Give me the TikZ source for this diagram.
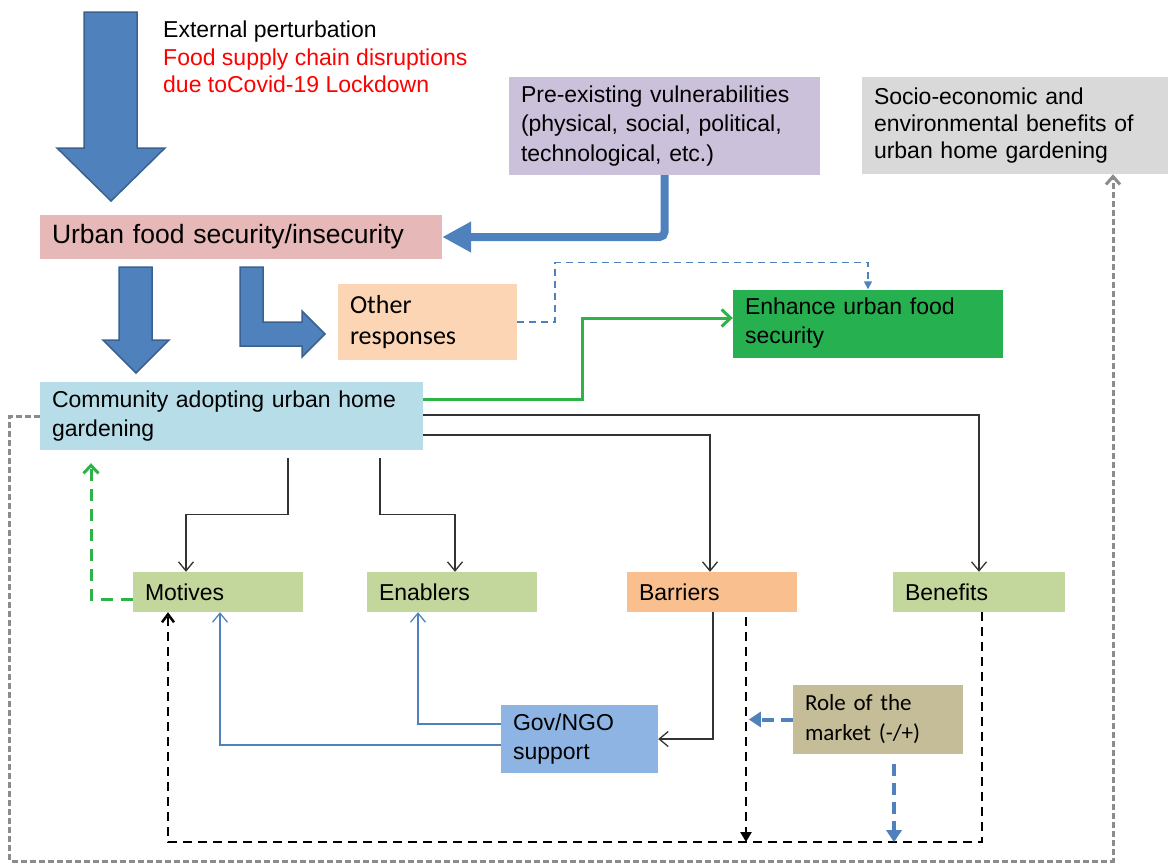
\documentclass[tikz,border=0pt]{standalone}
\usepackage{fontspec}
\setmainfont{Liberation Sans}
\newfontfamily\calib{Carlito}
\usetikzlibrary{arrows.meta,calc}
\definecolor{cUrban}{HTML}{E6B9B8}
\definecolor{cPre}{HTML}{CCC1DA}
\definecolor{cSocio}{HTML}{D9D9D9}
\definecolor{cOther}{HTML}{FCD5B5}
\definecolor{cEnh}{HTML}{27B04F}
\definecolor{cComm}{HTML}{B7DDE8}
\definecolor{cOlive}{HTML}{C3D69B}
\definecolor{cBarr}{HTML}{F9BF8F}
\definecolor{cGov}{HTML}{8EB4E3}
\definecolor{cRole}{HTML}{C4BD97}
\definecolor{cBlue}{HTML}{4F81BD}
\definecolor{cBlueD}{HTML}{3A6190}
\definecolor{cGreen}{HTML}{2DB34A}
\definecolor{cGrey}{HTML}{8C8C8C}
\definecolor{cDark}{HTML}{333333}
\begin{document}
\begin{tikzpicture}[x=1pt,y=-1pt,
  box/.style={rectangle, inner xsep=12pt, inner ysep=0pt, align=left, anchor=center,
    font=\fontsize{23}{29}\selectfont},
  blockarrow/.style={fill=cBlue, draw=cBlueD, line width=1.5pt, line join=miter},
  thinblack/.style={draw=cDark, line width=1.3pt, -{Straight Barb[length=9pt,width=15pt]}},
  thinblue/.style={draw=cBlue, line width=1.3pt, -{Straight Barb[length=9pt,width=15pt]}},
  greenline/.style={draw=cGreen, line width=3pt, -{Straight Barb[length=9pt,width=17pt]}},
  greendash/.style={draw=cGreen, line width=3pt, dash pattern=on 12pt off 8pt, -{Straight Barb[length=8pt,width=15pt]}},
  bluedashthin/.style={draw=cBlue, line width=1.6pt, dash pattern=on 7pt off 5pt, -{Triangle[length=8pt,width=8pt]}},
  bluedashthick/.style={draw=cBlue, line width=4pt, dash pattern=on 12pt off 7pt, -{Triangle[length=12pt,width=15pt]}},
  blackdash/.style={draw=black, line width=2.5pt, dash pattern=on 9pt off 6pt},
  greydash/.style={draw=cGrey, line width=3pt, dash pattern=on 6pt off 3pt, -{Straight Barb[length=8pt,width=14pt]}},
  bigconn/.style={draw=cBlue, line width=8pt, rounded corners=5pt, -{Triangle[length=29pt,width=29pt]}},
  lower/.style={yshift=-2pt}
]
\useasboundingbox (0,0) rectangle (1168,863);

% block arrows
\path[blockarrow] (84,12) -- (137,12) -- (137,148) -- (165,148) -- (111,201) -- (57,148) -- (84,148) -- cycle;
\path[blockarrow] (119,267) -- (152,267) -- (152,340) -- (169,340) -- (136,373) -- (103,340) -- (119,340) -- cycle;
\path[blockarrow] (240,267) -- (263,267) -- (263,322) -- (302,322) -- (302,311) -- (325,334) -- (302,357) -- (302,346) -- (240,346) -- cycle;

% text
\node[anchor=north west, inner sep=0pt, align=left, font=\fontsize{23}{27.5}\selectfont] (ext) at (163,21)
  {External perturbation\\\textcolor{red}{Food supply chain disruptions}\\\textcolor{red}{due toCovid-19 Lockdown}};

% boxes
\node[box, fill=cUrban, text width=378pt, minimum height=44pt, font=\fontsize{26.5}{30}\selectfont] (urban) at (241,237) {Urban food security/insecurity};
\node[box, fill=cPre, text width=287pt, minimum height=98pt, font=\fontsize{23}{29.5}\selectfont] (pre) at (664.5,126) {Pre-existing vulnerabilities\\(physical, social, political,\\technological, etc.)};
\node[box, fill=cSocio, text width=282pt, minimum height=97pt, font=\fontsize{23}{27}\selectfont] (socio) at (1015,125.5) {Socio-economic and\\environmental benefits of\\urban home gardening};
\node[box, fill=cOther, text width=155pt, minimum height=76pt, font=\calib\fontsize{26}{31}\selectfont] (other) at (427.5,322) {Other\\responses};
\node[box, fill=cEnh, text width=246pt, minimum height=68pt] (enhance) at (868,323.5) {Enhance urban food\\security};
\node[box, fill=cComm, text width=359pt, minimum height=68pt] (community) at (231.5,416) {Community adopting urban home\\gardening};
\node[box, fill=cOlive, text width=146pt, minimum height=40pt] (motives) at (218,592) {Motives};
\node[box, fill=cOlive, text width=146pt, minimum height=40pt] (enablers) at (452,592) {Enablers};
\node[box, fill=cBarr, text width=146pt, minimum height=40pt] (barriers) at (712,592) {Barriers};
\node[box, fill=cOlive, text width=148pt, minimum height=40pt] (benefits) at (979,592) {Benefits};
\node[box, fill=cGov, text width=133pt, minimum height=68pt] (gov) at (579.5,739) {Gov/NGO\\support};
\node[box, fill=cRole, text width=146pt, minimum height=69pt, font=\calib\fontsize{23}{30}\selectfont] (role) at (878,719.5) {Role of the\\market (-/+)};

\coordinate (bl) at (168,842);
\coordinate (bx) at (746,842);

% connectors
\draw[bigconn] (pre.south) |- (urban.east);
\draw[bluedashthin] (other.east) -- ++(38,0) |- ([yshift=27pt]enhance.north) -- (enhance.north);
\draw[greenline] ([yshift=17pt]community.east) -- ++(159,0) |- ([yshift=5.5pt]enhance.west);
\draw[thinblack] ([yshift=1pt]community.east) -| (benefits.north);
\draw[thinblack] ([yshift=-19pt]community.east) -| ([xshift=-2pt]barriers.north);
\draw[thinblack] ([xshift=148.5pt,yshift=-8pt]community.south) -- ++(0,56) -| ([xshift=3pt]enablers.north);
\draw[thinblack] ([xshift=56.5pt,yshift=-8pt]community.south) -- ++(0,56) -| ([xshift=-32pt]motives.north);
\draw[greendash] ([yshift=-7pt]motives.west) -| ([xshift=-140.5pt,yshift=-13pt]community.south);
\draw[thinblue] ([yshift=15pt]gov.west) -| ([xshift=-34pt]enablers.south);
\draw[thinblue] ([yshift=-6pt]gov.west) -| ([xshift=2pt]motives.south);
\draw[thinblack] ([xshift=1pt]barriers.south) |- (gov.east);
\draw[blackdash, -{Straight Barb[length=8pt,width=12pt]}] ([xshift=3pt]benefits.south) |- (bl) -- ([xshift=-50pt]motives.south);
\draw[blackdash, -{Triangle[length=10pt,width=11pt]}] ([xshift=34pt,yshift=-5pt]barriers.south) -- (bx);
\draw[bluedashthick] (role.west) -- ++(-44,0);
\draw[bluedashthick] ([xshift=16pt,yshift=-10pt]role.south) -- ++(0,78);
\draw[greydash] (community.west) -- ++(-30,0) -- ++(0,445) -| ([xshift=98pt]socio.south);
\end{tikzpicture}
\end{document}
